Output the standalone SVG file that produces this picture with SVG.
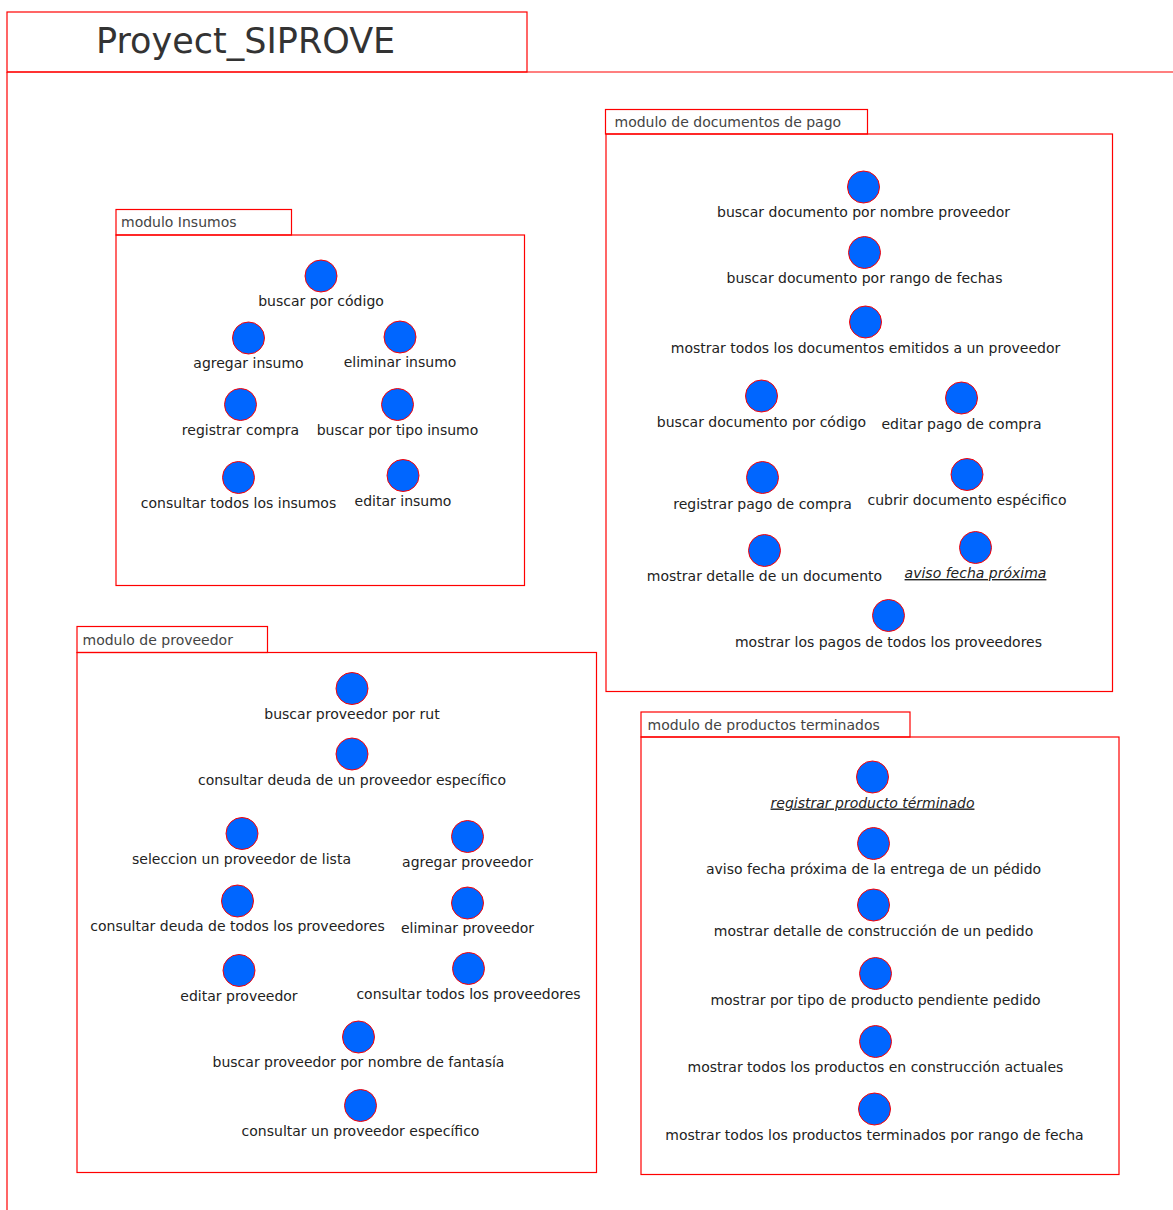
<svg xmlns="http://www.w3.org/2000/svg" width="1173" height="1210" viewBox="0 0 1173 1210">
<style>
.frame{fill:none;stroke:#ff0000;stroke-width:1.2}
.uc{fill:#0066ff;stroke:#ff0000;stroke-width:1}
.lbl{font-family:"DejaVu Sans",Verdana,sans-serif;font-size:14px;fill:#222;text-anchor:middle}
.it{font-style:italic;text-decoration:underline}
.tab{font-family:"DejaVu Sans",Verdana,sans-serif;font-size:14px;fill:#444}
.title{font-family:"DejaVu Sans",Verdana,sans-serif;font-size:35px;fill:#333}
</style>
<rect width="1173" height="1210" fill="#ffffff"/>
<g id="proyect">
<rect class="frame" x="7" y="12" width="520" height="60"/>
<path class="frame" d="M7 72 H1174 M7 72 V1211"/>
<text class="title" x="96" y="53">Proyect_SIPROVE</text>
</g>
<g id="connectors"></g>

<g id="modulo-insumos">
<rect class="frame" x="116" y="209.5" width="175.5" height="25.5"/>
<rect class="frame" x="116" y="235" width="408.5" height="350.5"/>
<text class="tab" x="121" y="227">modulo Insumos</text>
</g>
<g id="ins-1"><circle class="uc" cx="321" cy="276" r="16"/><text class="lbl" x="321" y="306">buscar por código</text></g>
<g id="ins-2"><circle class="uc" cx="248.5" cy="338" r="16"/><text class="lbl" x="248.5" y="368">agregar insumo</text></g>
<g id="ins-3"><circle class="uc" cx="400" cy="337" r="16"/><text class="lbl" x="400" y="367">eliminar insumo</text></g>
<g id="ins-4"><circle class="uc" cx="240.5" cy="404.5" r="16"/><text class="lbl" x="240.5" y="435">registrar compra</text></g>
<g id="ins-5"><circle class="uc" cx="397.5" cy="404.5" r="16"/><text class="lbl" x="397.5" y="435">buscar por tipo insumo</text></g>
<g id="ins-6"><circle class="uc" cx="238.5" cy="477.5" r="16"/><text class="lbl" x="238.5" y="508">consultar todos los insumos</text></g>
<g id="ins-7"><circle class="uc" cx="403" cy="475.5" r="16"/><text class="lbl" x="403" y="506">editar insumo</text></g>

<g id="modulo-documentos">
<rect class="frame" x="605.5" y="109.5" width="262" height="24.5"/>
<rect class="frame" x="606" y="134" width="506.5" height="557.5"/>
<text class="tab" x="614.5" y="127">modulo de documentos de pago</text>
</g>
<g id="doc-1"><circle class="uc" cx="863.5" cy="187" r="16"/><text class="lbl" x="863.5" y="217">buscar documento por nombre proveedor</text></g>
<g id="doc-2"><circle class="uc" cx="864.5" cy="252.5" r="16"/><text class="lbl" x="864.5" y="283">buscar documento por rango de fechas</text></g>
<g id="doc-3"><circle class="uc" cx="865.5" cy="322" r="16"/><text class="lbl" x="865.5" y="352.5">mostrar todos los documentos emitidos a un proveedor</text></g>
<g id="doc-4"><circle class="uc" cx="761.5" cy="396" r="16"/><text class="lbl" x="761.5" y="426.5">buscar documento por código</text></g>
<g id="doc-5"><circle class="uc" cx="961.5" cy="398" r="16"/><text class="lbl" x="961.5" y="428.5">editar pago de compra</text></g>
<g id="doc-6"><circle class="uc" cx="762.5" cy="477.5" r="16"/><text class="lbl" x="762.5" y="508.5">registrar pago de compra</text></g>
<g id="doc-7"><circle class="uc" cx="967" cy="474.5" r="16"/><text class="lbl" x="967" y="505">cubrir documento espécifico</text></g>
<g id="doc-8"><circle class="uc" cx="764.5" cy="550.5" r="16"/><text class="lbl" x="764.5" y="581">mostrar detalle de un documento</text></g>
<g id="doc-9"><circle class="uc" cx="975.5" cy="547.5" r="16"/><text class="lbl it" x="975.5" y="578">aviso fecha próxima</text></g>
<g id="doc-10"><circle class="uc" cx="888.5" cy="615.5" r="16"/><text class="lbl" x="888.5" y="646.5">mostrar los pagos de todos los proveedores</text></g>

<g id="modulo-proveedor">
<rect class="frame" x="77" y="626.5" width="190.5" height="26"/>
<rect class="frame" x="77" y="652.5" width="519.5" height="520"/>
<text class="tab" x="82.5" y="644.5">modulo de proveedor</text>
</g>
<g id="prov-1"><circle class="uc" cx="352" cy="688.5" r="16"/><text class="lbl" x="352" y="719">buscar proveedor por rut</text></g>
<g id="prov-2"><circle class="uc" cx="352" cy="754" r="16"/><text class="lbl" x="352" y="784.5">consultar deuda de un proveedor específico</text></g>
<g id="prov-3"><circle class="uc" cx="242" cy="833.5" r="16"/><text class="lbl" x="241.5" y="864">seleccion un proveedor de lista</text></g>
<g id="prov-4"><circle class="uc" cx="467.5" cy="836.5" r="16"/><text class="lbl" x="467.5" y="867">agregar proveedor</text></g>
<g id="prov-5"><circle class="uc" cx="237.5" cy="901" r="16"/><text class="lbl" x="237.5" y="931">consultar deuda de todos los proveedores</text></g>
<g id="prov-6"><circle class="uc" cx="467.5" cy="903" r="16"/><text class="lbl" x="467.5" y="933">eliminar proveedor</text></g>
<g id="prov-7"><circle class="uc" cx="239" cy="970.5" r="16"/><text class="lbl" x="239" y="1000.5">editar proveedor</text></g>
<g id="prov-8"><circle class="uc" cx="468.5" cy="968.5" r="16"/><text class="lbl" x="468.5" y="998.5">consultar todos los proveedores</text></g>
<g id="prov-9"><circle class="uc" cx="358.5" cy="1037" r="16"/><text class="lbl" x="358.5" y="1067">buscar proveedor por nombre de fantasía</text></g>
<g id="prov-10"><circle class="uc" cx="360.5" cy="1105.5" r="16"/><text class="lbl" x="360.5" y="1135.5">consultar un proveedor específico</text></g>

<g id="modulo-productos">
<rect class="frame" x="641" y="712" width="269" height="25"/>
<rect class="frame" x="641" y="737" width="478" height="437.5"/>
<text class="tab" x="647.5" y="729.5">modulo de productos terminados</text>
</g>
<g id="prod-1"><circle class="uc" cx="872.5" cy="777" r="16"/><text class="lbl it" x="872.5" y="807.5">registrar producto términado</text></g>
<g id="prod-2"><circle class="uc" cx="873.5" cy="843.5" r="16"/><text class="lbl" x="873.5" y="874">aviso fecha próxima de la entrega de un pédido</text></g>
<g id="prod-3"><circle class="uc" cx="873.5" cy="905" r="16"/><text class="lbl" x="873.5" y="935.5">mostrar detalle de construcción de un pedido</text></g>
<g id="prod-4"><circle class="uc" cx="875.5" cy="973.5" r="16"/><text class="lbl" x="875.5" y="1004.5">mostrar por tipo de producto pendiente pedido</text></g>
<g id="prod-5"><circle class="uc" cx="875.5" cy="1041.5" r="16"/><text class="lbl" x="875.5" y="1072">mostrar todos los productos en construcción actuales</text></g>
<g id="prod-6"><circle class="uc" cx="874.5" cy="1109" r="16"/><text class="lbl" x="874.5" y="1139.5">mostrar todos los productos terminados por rango de fecha</text></g>
</svg>
